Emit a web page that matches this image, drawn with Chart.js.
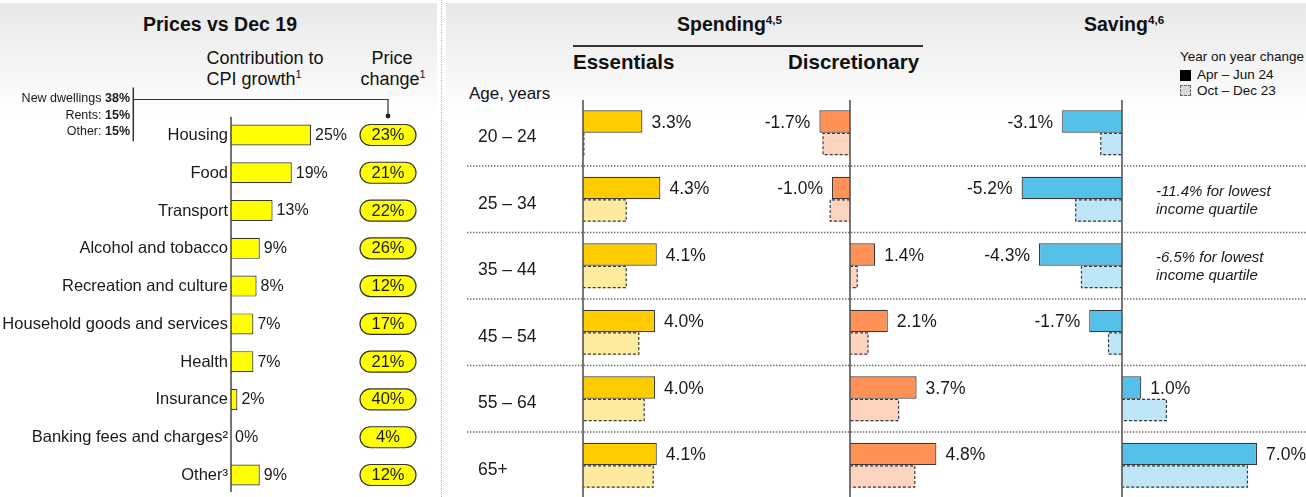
<!DOCTYPE html>
<html><head><meta charset="utf-8">
<script src="https://cdn.jsdelivr.net/npm/chart.js@4.4.1/dist/chart.umd.min.js"></script>
<style>
html,body{margin:0;padding:0;width:1306px;height:497px;overflow:hidden;background:#fff;font-family:"Liberation Sans",Arial,sans-serif;color:#111;}
.bg{position:absolute;top:3px;height:494px;background:linear-gradient(#e8e8e8,#fff 115px);}
#sep{position:absolute;left:441px;top:0;height:497px;border-left:1px dotted #b5b5b5;}
canvas{position:absolute;}
.t{position:absolute;white-space:nowrap;line-height:1;transform:translateY(-50%);}
.c{transform:translate(-50%,-50%);}
.b{font-weight:bold;}
sup{font-size:60%;vertical-align:0;position:relative;top:-0.6em;}
.sq{position:absolute;width:11px;height:11px;box-sizing:border-box;}
</style></head>
<body>
<div class="bg" style="left:0;width:437px"></div>
<div class="bg" style="left:446px;width:860px"></div>
<div id="sep"></div>

<div class="t c b" style="left:220px;top:25px;font-size:19.5px">Prices vs Dec 19</div>
<div class="t" style="left:206.5px;top:58px;font-size:18px">Contribution to</div>
<div class="t" style="left:206.5px;top:78.5px;font-size:18px">CPI growth<sup>1</sup></div>
<div class="t c" style="left:392px;top:58px;font-size:18px">Price</div>
<div class="t c" style="left:393px;top:78.5px;font-size:18px">change<sup>1</sup></div>

<div class="t b" style="left:677px;top:25px;font-size:19.5px">Spending<sup>4,5</sup></div>
<div style="position:absolute;left:573px;top:45px;width:350px;height:1.5px;background:#333"></div>
<div class="t b" style="left:573px;top:61.5px;font-size:20.5px">Essentials</div>
<div class="t b" style="left:788px;top:61.5px;font-size:20.5px">Discretionary</div>
<div class="t b" style="left:1084px;top:25px;font-size:19.5px">Saving<sup>4,6</sup></div>
<div class="t" style="left:1180px;top:57px;font-size:13.5px">Year on year change</div>
<div class="sq" style="left:1180px;top:69.5px;background:#000"></div>
<div class="t" style="left:1197px;top:75px;font-size:13.5px">Apr – Jun 24</div>
<div class="sq" style="left:1180px;top:85px;background:#d9d9d9;border:1px dashed #666"></div>
<div class="t" style="left:1197px;top:90.5px;font-size:13.5px">Oct – Dec 23</div>
<div class="t" style="left:469px;top:93px;font-size:17px">Age, years</div>

<canvas id="cpi" width="440" height="412" style="left:0;top:85px"></canvas>
<canvas id="ess" width="861" height="400" style="left:445px;top:99px"></canvas>
<canvas id="dis" width="861" height="400" style="left:445px;top:99px"></canvas>
<canvas id="sav" width="861" height="400" style="left:445px;top:99px"></canvas>

<script>
// ---------- DATA ----------
const cpiCategories = ['Housing','Food','Transport','Alcohol and tobacco','Recreation and culture','Household goods and services','Health','Insurance','Banking fees and charges²','Other³'];
const cpiContribution = [25,19,13,9,8,7,7,2,0,9];
const priceChange = [23,21,22,26,12,17,21,40,4,12];
const housingBreakdown = [['New dwellings ','38%'],['Rents: ','15%'],['Other: ','15%']];

const ageGroups = ['20 – 24','25 – 34','35 – 44','45 – 54','55 – 64','65+'];
const essentialsAprJun24 = [3.3,4.3,4.1,4.0,4.0,4.1];
const essentialsOctDec23 = [0.05,2.4,2.4,3.1,3.4,3.9];
const discretionaryAprJun24 = [-1.7,-1.0,1.4,2.1,3.7,4.8];
const discretionaryOctDec23 = [-1.5,-1.1,0.4,1.0,2.7,3.6];
const savingAprJun24 = [-3.1,-5.2,-4.3,-1.7,1.0,7.0];
const savingOctDec23 = [-1.1,-2.4,-2.1,-0.7,2.3,6.5];
const savingNotes = [null,['-11.4% for lowest','income quartile'],['-6.5% for lowest','income quartile'],null,null,null];

// ---------- HELPERS ----------
const FONT = '"Liberation Sans", Arial, sans-serif';
function roundRect(ctx,x,y,w,h,r){ctx.beginPath();ctx.moveTo(x+r,y);ctx.lineTo(x+w-r,y);ctx.arc(x+w-r,y+r,r,-Math.PI/2,Math.PI/2);ctx.lineTo(x+r,y+h);ctx.arc(x+r,y+r,r,Math.PI/2,Math.PI*1.5);ctx.closePath();}

// ---------- LEFT CHART ----------
(function(){
  const cv = document.getElementById('cpi');
  const axisX = 231, ppu = 3.2, min = 0, max = 50;
  new Chart(cv,{
    type:'bar',
    data:{labels:cpiCategories,datasets:[{data:cpiContribution,backgroundColor:'#FFFF00',borderColor:'#3a3a3a',borderWidth:1.2,borderSkipped:'start',categoryPercentage:0.556,barPercentage:1}]},
    options:{indexAxis:'y',responsive:false,animation:false,events:[],
      layout:{padding:{left:axisX-(0-min)*ppu,right:cv.width-(axisX+max*ppu),top:31.1,bottom:3.1}},
      scales:{x:{type:'linear',min:min,max:max,display:false},y:{type:'category',display:false}},
      plugins:{legend:{display:false},tooltip:{enabled:false}}},
    plugins:[{id:'cpiDeco',afterDatasetsDraw(chart){
      const ctx=chart.ctx, xs=chart.scales.x, ca=chart.chartArea;
      const meta=chart.getDatasetMeta(0);
      ctx.save();
      // axis
      const x0=xs.getPixelForValue(0);
      ctx.strokeStyle='#444';ctx.lineWidth=1.5;ctx.beginPath();ctx.moveTo(x0,ca.top+0.6);ctx.lineTo(x0,ca.bottom-2);ctx.stroke();
      ctx.textBaseline='middle';
      meta.data.forEach((el,i)=>{
        const p=el.getProps(['x','y'],true);
        ctx.fillStyle='#1a1a1a';ctx.font='16.5px '+FONT;ctx.textAlign='right';
        ctx.fillText(cpiCategories[i],x0-3,p.y+0.5);
        ctx.font='16px '+FONT;ctx.textAlign='left';
        ctx.fillText(cpiContribution[i]+'%',p.x+4,p.y+0.5);
        // price change pill
        const pw=56,ph=21,pc=388;
        roundRect(ctx,pc-pw/2,p.y-ph/2,pw,ph,ph/2);
        ctx.fillStyle='#FFFF00';ctx.fill();ctx.strokeStyle='#333';ctx.lineWidth=1.2;ctx.stroke();
        ctx.fillStyle='#1a1a1a';ctx.textAlign='center';ctx.font='16.5px '+FONT;
        ctx.fillText(priceChange[i]+'%',pc,p.y+0.5);
      });
      // housing breakdown bracket
      const hy=meta.data[0].getProps(['y'],true).y; // housing row centre
      ctx.strokeStyle='#333';ctx.lineWidth=1.5;
      ctx.beginPath();ctx.moveTo(133.3,hy-47.5);ctx.lineTo(133.3,hy+6.2);ctx.stroke();
      ctx.lineWidth=1.2;ctx.beginPath();ctx.moveTo(133.3,hy-35.5);ctx.lineTo(388,hy-35.5);ctx.lineTo(388,hy-19);ctx.stroke();
      ctx.fillStyle='#222';ctx.beginPath();ctx.arc(388,hy-19,2.4,0,Math.PI*2);ctx.fill();
      const rowsY=[hy-36.2,hy-19.5,hy-3.8];
      housingBreakdown.forEach((r,i)=>{
        ctx.textAlign='right';
        ctx.font='bold 12.5px '+FONT;const bw=ctx.measureText(r[1]).width;
        ctx.fillStyle='#1a1a1a';ctx.fillText(r[1],130,rowsY[i]);
        ctx.font='12.5px '+FONT;ctx.fillText(r[0],130-bw,rowsY[i]);
      });
      ctx.restore();
    }}]
  });
})();

// ---------- RIGHT CHARTS ----------
function panel(id,cfg){
  const cv=document.getElementById(id);
  return new Chart(cv,{
    type:'bar',
    data:{labels:ageGroups,datasets:[
      {data:cfg.cur,backgroundColor:cfg.c1,borderColor:'#3a3a3a',borderWidth:1.2,borderSkipped:'start',categoryPercentage:0.677,barPercentage:1},
      {data:cfg.prev,backgroundColor:cfg.c2,borderWidth:0,categoryPercentage:0.677,barPercentage:1}
    ]},
    options:{indexAxis:'y',responsive:false,animation:false,events:[],
      layout:{padding:{left:cfg.axisX-(0-cfg.min)*cfg.ppu,right:cv.width-(cfg.axisX+cfg.max*cfg.ppu),top:0.5,bottom:0.5}},
      scales:{x:{type:'linear',min:cfg.min,max:cfg.max,display:false},y:{type:'category',display:false}},
      plugins:{legend:{display:false},tooltip:{enabled:false}}},
    plugins:[{id:'deco'+id,
      beforeDatasetsDraw(chart){
        if(!cfg.rowDecor) return;
        const ctx=chart.ctx, ys=chart.scales.y;
        ctx.save();
        ctx.strokeStyle='#6a6a6a';ctx.lineWidth=1.4;ctx.setLineDash([1.4,1.6]);
        for(let i=0;i<ageGroups.length-1;i++){
          const yb=(ys.getPixelForValue(i)+ys.getPixelForValue(i+1))/2;
          ctx.beginPath();ctx.moveTo(22,yb);ctx.lineTo(chart.width,yb);ctx.stroke();
        }
        ctx.setLineDash([]);
        ctx.fillStyle='#1a1a1a';ctx.font='17.5px '+FONT;ctx.textBaseline='middle';ctx.textAlign='left';
        ageGroups.forEach((g,i)=>ctx.fillText(g,33,ys.getPixelForValue(i)+4.5));
        ctx.restore();
      },
      afterDatasetsDraw(chart){
        const ctx=chart.ctx, xs=chart.scales.x, ys=chart.scales.y, ca=chart.chartArea;
        ctx.save();
        // dashed outline for previous period
        ctx.strokeStyle='#3a3a3a';ctx.lineWidth=1.2;ctx.setLineDash([3,2]);
        chart.getDatasetMeta(1).data.forEach(el=>{
          const p=el.getProps(['x','y','base','height'],true);
          const t=p.y-p.height/2+0.6,b=p.y+p.height/2-0.6;
          ctx.beginPath();ctx.moveTo(p.base,t);ctx.lineTo(p.x,t);ctx.lineTo(p.x,b);ctx.lineTo(p.base,b);ctx.stroke();
        });
        ctx.setLineDash([]);
        // axis
        const x0=xs.getPixelForValue(0);
        ctx.strokeStyle='#555';ctx.lineWidth=1.6;ctx.beginPath();ctx.moveTo(x0,ca.top+0.5);ctx.lineTo(x0,chart.height);ctx.stroke();
        // value labels
        ctx.fillStyle='#1a1a1a';ctx.font='17.5px '+FONT;ctx.textBaseline='middle';
        chart.getDatasetMeta(0).data.forEach((el,i)=>{
          const p=el.getProps(['x','y'],true), v=cfg.cur[i];
          ctx.textAlign=v<0?'right':'left';
          ctx.fillText(v.toFixed(1)+'%',v<0?p.x-9:p.x+9,p.y+1.5);
        });
        if(cfg.notes){
          ctx.font='italic 15px '+FONT;ctx.textAlign='left';
          cfg.notes.forEach((n,i)=>{
            if(!n) return;
            const cy=ys.getPixelForValue(i);
            ctx.fillText(n[0],cfg.noteX,cy-7.5);
            ctx.fillText(n[1],cfg.noteX,cy+10.5);
          });
        }
        ctx.restore();
      }}]
  });
}
panel('ess',{cur:essentialsAprJun24,prev:essentialsOctDec23,c1:'#FFCC00',c2:'#FFEBA0',axisX:138,ppu:18,min:-1,max:10,rowDecor:true});
panel('dis',{cur:discretionaryAprJun24,prev:discretionaryOctDec23,c1:'#FF9257',c2:'#FDD4BF',axisX:405,ppu:18,min:-3,max:6});
panel('sav',{cur:savingAprJun24,prev:savingOctDec23,c1:'#55C1E9',c2:'#BEE6F6',axisX:677,ppu:19.3,min:-6,max:8,notes:savingNotes,noteX:711});
</script>
</body></html>
